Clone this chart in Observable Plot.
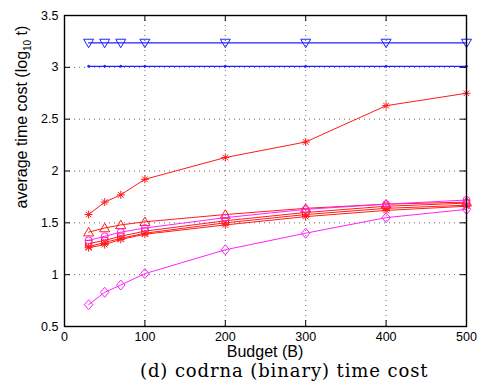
<!DOCTYPE html>
<html><head><meta charset="utf-8">
<script src="https://cdn.jsdelivr.net/npm/d3@7"></script>
<script src="https://cdn.jsdelivr.net/npm/@observablehq/plot@0.6"></script>
<style>
body{margin:0;background:#fff;}
#wrap{position:relative;width:477px;height:387px;font-family:"Liberation Sans",Arial,sans-serif;}
#ylab{position:absolute;left:23px;top:117px;transform:translate(-50%,-50%) rotate(-90deg);white-space:nowrap;font-size:16px;color:#000;}
#ylab sub{font-size:10px;}
#xlab{position:absolute;left:265px;top:343px;transform:translateX(-50%);white-space:nowrap;font-size:16px;color:#000;}
#cap{position:absolute;left:140px;top:360px;font-family:"DejaVu Serif","Liberation Serif",serif;font-size:18px;letter-spacing:0.9px;white-space:nowrap;color:#000;}
</style></head>
<body><div id="wrap"><div id="chart"></div>
<div id="ylab">average time cost (log<sub>10</sub> t)</div>
<div id="xlab">Budget (B)</div>
<div id="cap">(d) codrna (binary) time cost</div></div>
<script>
const budgets = [30, 50, 70, 100, 200, 300, 400, 500];
const blueTriDown = [3.235, 3.235, 3.235, 3.235, 3.235, 3.235, 3.235, 3.235];
const bluePoint   = [3.01, 3.01, 3.01, 3.01, 3.01, 3.01, 3.01, 3.01];
const redStarHigh = [1.58, 1.70, 1.77, 1.92, 2.13, 2.28, 2.63, 2.75];
const redTriUp    = [1.41, 1.45, 1.48, 1.51, 1.58, 1.64, 1.68, 1.70];
const magentaCirc = [1.33, 1.37, 1.41, 1.45, 1.55, 1.63, 1.68, 1.72];
const redSquare   = [1.30, 1.33, 1.37, 1.42, 1.52, 1.60, 1.66, 1.69];
const redCross    = [1.27, 1.31, 1.35, 1.40, 1.50, 1.58, 1.64, 1.67];
const redStarLow  = [1.26, 1.29, 1.34, 1.39, 1.48, 1.56, 1.62, 1.66];
const magentaDiam = [0.71, 0.83, 0.90, 1.01, 1.24, 1.40, 1.55, 1.63];
const xTicks = [0, 100, 200, 300, 400, 500];
const yTicks = [0.5, 1, 1.5, 2, 2.5, 3, 3.5];

const asterisk = {draw(ctx, size){ const r = Math.sqrt(size/Math.PI); const d = r*0.7071;
  ctx.moveTo(-r,0);ctx.lineTo(r,0);ctx.moveTo(0,-r);ctx.lineTo(0,r);
  ctx.moveTo(-d,-d);ctx.lineTo(d,d);ctx.moveTo(-d,d);ctx.lineTo(d,-d);}};
const crossX = {draw(ctx, size){ const r = Math.sqrt(size/Math.PI)*0.75;
  ctx.moveTo(-r,-r);ctx.lineTo(r,r);ctx.moveTo(-r,r);ctx.lineTo(r,-r);}};
const diamondSq = {draw(ctx, size){ const r = Math.sqrt(size/Math.PI);
  ctx.moveTo(0,-r);ctx.lineTo(r*0.85,0);ctx.lineTo(0,r);ctx.lineTo(-r*0.85,0);ctx.closePath();}};
const squareS = {draw(ctx, size){ const r = Math.sqrt(size/Math.PI)*0.8;
  ctx.rect(-r,-r,2*r,2*r);}};
const triDown = {draw(ctx, size){ const r = Math.sqrt(size/Math.PI);
  ctx.moveTo(-r,-r*0.75);ctx.lineTo(r,-r*0.75);ctx.lineTo(0,r*0.95);ctx.closePath();}};
const triUp = {draw(ctx, size){ const r = Math.sqrt(size/Math.PI);
  ctx.moveTo(-r,r*0.75);ctx.lineTo(r,r*0.75);ctx.lineTo(0,-r*0.95);ctx.closePath();}};

const series = [
  {values:blueTriDown, color:"#2020ff", symbol:triDown, r:5, w:1.3},
  {values:bluePoint, color:"#2020ff", symbol:"circle", r:1, fill:true, w:1.2},
  {values:redStarHigh, color:"#ff1a1a", symbol:asterisk, r:4},
  {values:redTriUp, color:"#ff1a1a", symbol:triUp, r:5},
  {values:redSquare, color:"#ff1a1a", symbol:squareS, r:4},
  {values:redCross, color:"#ff1a1a", symbol:crossX, r:4.5},
  {values:redStarLow, color:"#ff1a1a", symbol:asterisk, r:4},
  {values:magentaCirc, color:"#ff22ff", symbol:"circle", r:3.5},
  {values:magentaDiam, color:"#ff22ff", symbol:diamondSq, r:5},
];

const marks = [
  Plot.gridX(xTicks.slice(1,-1), {stroke:"#555", strokeOpacity:0.9, strokeDasharray:"1,4", strokeWidth:1}),
  Plot.gridY(yTicks.slice(1,-1), {stroke:"#555", strokeOpacity:0.9, strokeDasharray:"1,4", strokeWidth:1}),
];
for (const s of series) {
  const data = budgets.map((b,i)=>({b, v:s.values[i]}));
  marks.push(Plot.line(data, {x:"b", y:"v", stroke:s.color, strokeWidth:s.w || 1}));
  marks.push(Plot.dot(data, {x:"b", y:"v", stroke:s.color, fill: s.fill ? s.color : "none",
    symbol: s.symbol, r: s.r, strokeWidth:1}));
}
marks.push(
  Plot.axisX(xTicks, {anchor:"bottom", tickSize:0, tickPadding:6, fontSize:12.5, tickFormat:d=>String(d), label:null}),
  Plot.axisY(yTicks, {anchor:"left", tickSize:0, tickPadding:6, fontSize:12.5, tickFormat:d=>String(d), label:null}),
  Plot.tickX(xTicks, {x:d=>d, stroke:"#000", insetTop:305}),
  Plot.tickX(xTicks, {x:d=>d, stroke:"#000", insetBottom:305}),
  Plot.tickY(yTicks, {y:d=>d, stroke:"#000", insetRight:396}),
  Plot.tickY(yTicks, {y:d=>d, stroke:"#000", insetLeft:396}),
  Plot.frame({stroke:"#000", strokeWidth:1.4})
);

const chart = Plot.plot({
  width:477, height:362,
  marginLeft:64, marginRight:11, marginTop:15, marginBottom:36,
  style:{fontFamily:"Liberation Sans, Arial, sans-serif", fontSize:"12.5px", color:"#000", background:"#fff"},
  x:{domain:[0,500]},
  y:{domain:[0.5,3.5]},
  marks
});
document.getElementById("chart").appendChild(chart);
</script></body></html>
